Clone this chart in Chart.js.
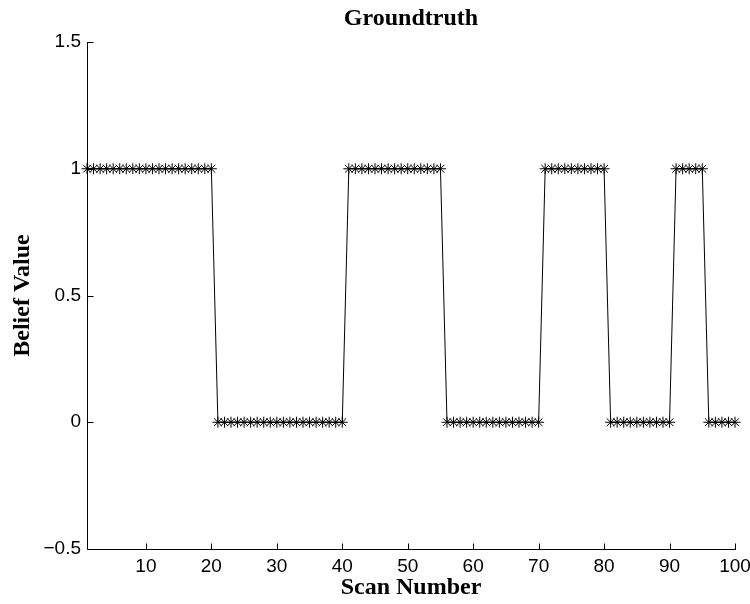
<!DOCTYPE html>
<html>
<head>
<meta charset="utf-8">
<script src="https://cdn.jsdelivr.net/npm/chart.js@4"></script>
<style>
  html, body { margin: 0; padding: 0; background: #fff; }
  #wrap { width: 750px; height: 604px; }
</style>
</head>
<body>
<div id="wrap"><canvas id="groundChart" width="750" height="604"></canvas></div>
<script>
// scan numbers and ground truth belief values
const scanNumbers = [
  1, 2, 3, 4, 5, 6, 7, 8, 9, 10, 11, 12, 13, 14, 15, 16, 17, 18, 19, 20,
  21, 22, 23, 24, 25, 26, 27, 28, 29, 30, 31, 32, 33, 34, 35, 36, 37, 38, 39, 40,
  41, 42, 43, 44, 45, 46, 47, 48, 49, 50, 51, 52, 53, 54, 55, 56, 57, 58, 59, 60,
  61, 62, 63, 64, 65, 66, 67, 68, 69, 70, 71, 72, 73, 74, 75, 76, 77, 78, 79, 80,
  81, 82, 83, 84, 85, 86, 87, 88, 89, 90, 91, 92, 93, 94, 95, 96, 97, 98, 99, 100
];
const beliefValues = [
  1, 1, 1, 1, 1, 1, 1, 1, 1, 1, 1, 1, 1, 1, 1, 1, 1, 1, 1, 1,
  0, 0, 0, 0, 0, 0, 0, 0, 0, 0, 0, 0, 0, 0, 0, 0, 0, 0, 0, 0,
  1, 1, 1, 1, 1, 1, 1, 1, 1, 1, 1, 1, 1, 1, 1, 0, 0, 0, 0, 0,
  0, 0, 0, 0, 0, 0, 0, 0, 0, 0, 1, 1, 1, 1, 1, 1, 1, 1, 1, 1,
  0, 0, 0, 0, 0, 0, 0, 0, 0, 0, 1, 1, 1, 1, 1, 0, 0, 0, 0, 0
];
const xTicks = [10, 20, 30, 40, 50, 60, 70, 80, 90, 100];
const yTicks = [-0.5, 0, 0.5, 1, 1.5];

// axes gauche/bas et petits traits vers l'intérieur, comme matlab
const matlabAxes = {
  id: 'matlabAxes',
  afterDraw(chart) {
    const ctx = chart.ctx;
    const area = chart.chartArea;
    const xs = chart.scales.x;
    const ys = chart.scales.y;
    const left = Math.round(area.left) + 0.5;
    const bottom = Math.round(area.bottom) + 0.5;
    ctx.save();
    ctx.strokeStyle = '#000';
    ctx.lineWidth = 1;
    ctx.beginPath();
    ctx.moveTo(left, Math.round(area.top));
    ctx.lineTo(left, bottom);
    ctx.lineTo(Math.round(area.right) + 1, bottom);
    xTicks.forEach(v => {
      const px = Math.round(xs.getPixelForValue(v)) + 0.5;
      ctx.moveTo(px, bottom);
      ctx.lineTo(px, bottom - 6);
    });
    yTicks.forEach(v => {
      const py = Math.round(ys.getPixelForValue(v)) + 0.5;
      ctx.moveTo(left, py);
      ctx.lineTo(left + 6, py);
    });
    ctx.stroke();
    ctx.restore();
  }
};

const ctx = document.getElementById('groundChart');
new Chart(ctx, {
  type: 'line',
  data: {
    datasets: [{
      data: scanNumbers.map((x, i) => ({ x: x, y: beliefValues[i] })),
      borderColor: '#000',
      borderWidth: 1,
      pointStyle: 'star',
      pointRadius: 5.5,
      pointBorderColor: '#000',
      pointBorderWidth: 1,
      pointBackgroundColor: '#000',
      tension: 0,
      clip: 8
    }]
  },
  options: {
    responsive: false,
    animation: false,
    layout: { padding: { left: 8, right: 15, top: 0, bottom: 2 } },
    plugins: {
      legend: { display: false },
      tooltip: { enabled: false },
      title: {
        display: true,
        fullSize: false,
        text: 'Groundtruth',
        color: '#000',
        font: { family: 'Liberation Serif', size: 24, weight: 'bold', lineHeight: 1.2 },
        padding: { top: 4, bottom: 9.2 }
      }
    },
    scales: {
      x: {
        type: 'linear',
        min: 1,
        max: 100,
        afterBuildTicks: s => { s.ticks = xTicks.map(v => ({ value: v })); },
        afterFit: s => { s.height = 53; s.paddingLeft = 0; s.paddingRight = 0; },
        grid: { display: false, drawTicks: false },
        border: { display: false },
        ticks: {
          color: '#000',
          padding: 6,
          maxRotation: 0,
          font: { family: 'Liberation Sans', size: 19 }
        },
        title: {
          display: true,
          text: 'Scan Number',
          color: '#000',
          padding: { top: 0, bottom: 0 },
          font: { family: 'Liberation Serif', size: 24, weight: 'bold' }
        }
      },
      y: {
        min: -0.5,
        max: 1.5,
        afterBuildTicks: s => { s.ticks = yTicks.map(v => ({ value: v })); },
        afterFit: s => { s.width = 79; s.paddingTop = 0; s.paddingBottom = 0; },
        grid: { display: false, drawTicks: false },
        border: { display: false },
        ticks: {
          color: '#000',
          padding: 6,
          font: { family: 'Liberation Sans', size: 19 },
          callback: v => (v < 0 ? '\u2212' + Math.abs(v) : String(v))
        },
        title: {
          display: true,
          text: 'Belief Value',
          color: '#000',
          padding: { top: 0, bottom: 0 },
          font: { family: 'Liberation Serif', size: 24, weight: 'bold' }
        }
      }
    }
  },
  plugins: [matlabAxes]
});
</script>
</body>
</html>
